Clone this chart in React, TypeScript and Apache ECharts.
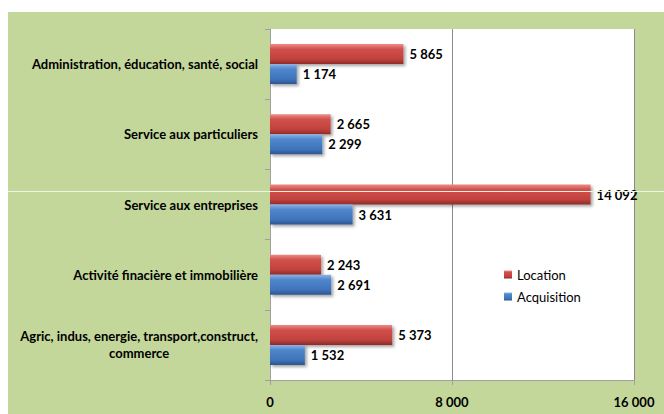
import React, { useEffect, useRef } from "react";
import * as echarts from "echarts";

const categories = [
  "Agric, indus, energie, transport,construct,\ncommerce",
  "Activité finacière et immobilière",
  "Service aux entreprises",
  "Service aux particuliers",
  "Administration, éducation, santé, social",
];
const locationValues = [5373, 2243, 14092, 2665, 5865];
const acquisitionValues = [1532, 2691, 3631, 2299, 1174];
const seriesNames = ["Location", "Acquisition"];
const xTicks = { min: 0, max: 16000, interval: 8000 };

const fmt = (v: number) => String(Math.round(v)).replace(/\B(?=(\d{3})+(?!\d))/g, " ");
const FONT = "Lato";

export default function App() {
  const ref = useRef<HTMLDivElement>(null);
  useEffect(() => {
    document.body.style.margin = "0";
    const chart = echarts.init(ref.current!, undefined, { renderer: "svg" });
    const redGrad = new echarts.graphic.LinearGradient(0, 0, 0, 1, [
      { offset: 0, color: "#ec8c88" },
      { offset: 0.25, color: "#d2504b" },
      { offset: 0.75, color: "#c0423e" },
      { offset: 1, color: "#8e2b28" },
    ]);
    const blueGrad = new echarts.graphic.LinearGradient(0, 0, 0, 1, [
      { offset: 0, color: "#8db4e8" },
      { offset: 0.25, color: "#4f86cc" },
      { offset: 0.75, color: "#3f74ba" },
      { offset: 1, color: "#2b5590" },
    ]);
    const labelCfg = {
      show: true,
      position: "right" as const,
      distance: 6,
      fontFamily: FONT,
      fontWeight: "bold" as const,
      fontSize: 13,
      color: "#000",
      formatter: (p: any) => fmt(p.value),
    };
    const shadow = {
      shadowColor: "rgba(0,0,0,0.35)",
      shadowBlur: 3,
      shadowOffsetX: 2,
      shadowOffsetY: 2,
    };
    chart.setOption({
      animation: false,
      backgroundColor: "#ffffff",
      graphic: [
        {
          type: "rect",
          z: -10,
          silent: true,
          shape: { x: 8, y: 12, width: 656, height: 402 },
          style: { fill: "#c4d79b" },
        },
        {
          type: "line",
          z: 100,
          silent: true,
          shape: { x1: 8, y1: 191.5, x2: 664, y2: 191.5 },
          style: { stroke: "#eef3e2", lineWidth: 1 },
        },
      ],
      grid: {
        left: 270,
        right: 30,
        top: 29,
        bottom: 34,
        show: true,
        backgroundColor: "#ffffff",
        borderWidth: 0,
      },
      legend: {
        data: seriesNames,
        orient: "vertical",
        left: 499,
        top: 263,
        itemWidth: 8,
        itemHeight: 8,
        itemGap: 9,
        icon: "rect",
        textStyle: { fontFamily: FONT, fontSize: 13, color: "#000" },
      },
      xAxis: {
        type: "value",
        min: xTicks.min,
        max: xTicks.max,
        interval: xTicks.interval,
        axisLine: { show: true, lineStyle: { color: "#a0a0a0" } },
        axisTick: { show: true, length: 5, lineStyle: { color: "#a0a0a0" } },
        splitLine: { show: true, lineStyle: { color: "#8a8a8a" } },
        axisLabel: {
          margin: 15,
          fontFamily: FONT,
          fontWeight: "bold",
          fontSize: 13,
          color: "#000",
          formatter: (v: number) => fmt(v),
        },
      },
      yAxis: {
        type: "category",
        data: categories,
        axisLine: { show: true, lineStyle: { color: "#a0a0a0" } },
        axisTick: { show: true, length: 5, lineStyle: { color: "#a0a0a0" } },
        axisLabel: {
          margin: 12,
          formatter: (v: string) =>
            v
              .split("\n")
              .map((l) => `{c|${l}}`)
              .join("\n"),
          rich: {
            c: {
              fontFamily: FONT,
              fontWeight: "bold",
              fontSize: 13,
              color: "#000",
              align: "center",
              lineHeight: 17,
            },
          },
        },
      },
      series: [
        {
          name: "Location",
          type: "bar",
          data: locationValues,
          barWidth: 20,
          barGap: "0%",
          itemStyle: { color: redGrad, ...shadow },
          label: labelCfg,
        },
        {
          name: "Acquisition",
          type: "bar",
          data: acquisitionValues,
          barWidth: 20,
          barGap: "0%",
          itemStyle: { color: blueGrad, ...shadow },
          label: labelCfg,
        },
      ],
    });
    return () => chart.dispose();
  }, []);
  return <div ref={ref} style={{ width: 664, height: 414 }} />;
}
